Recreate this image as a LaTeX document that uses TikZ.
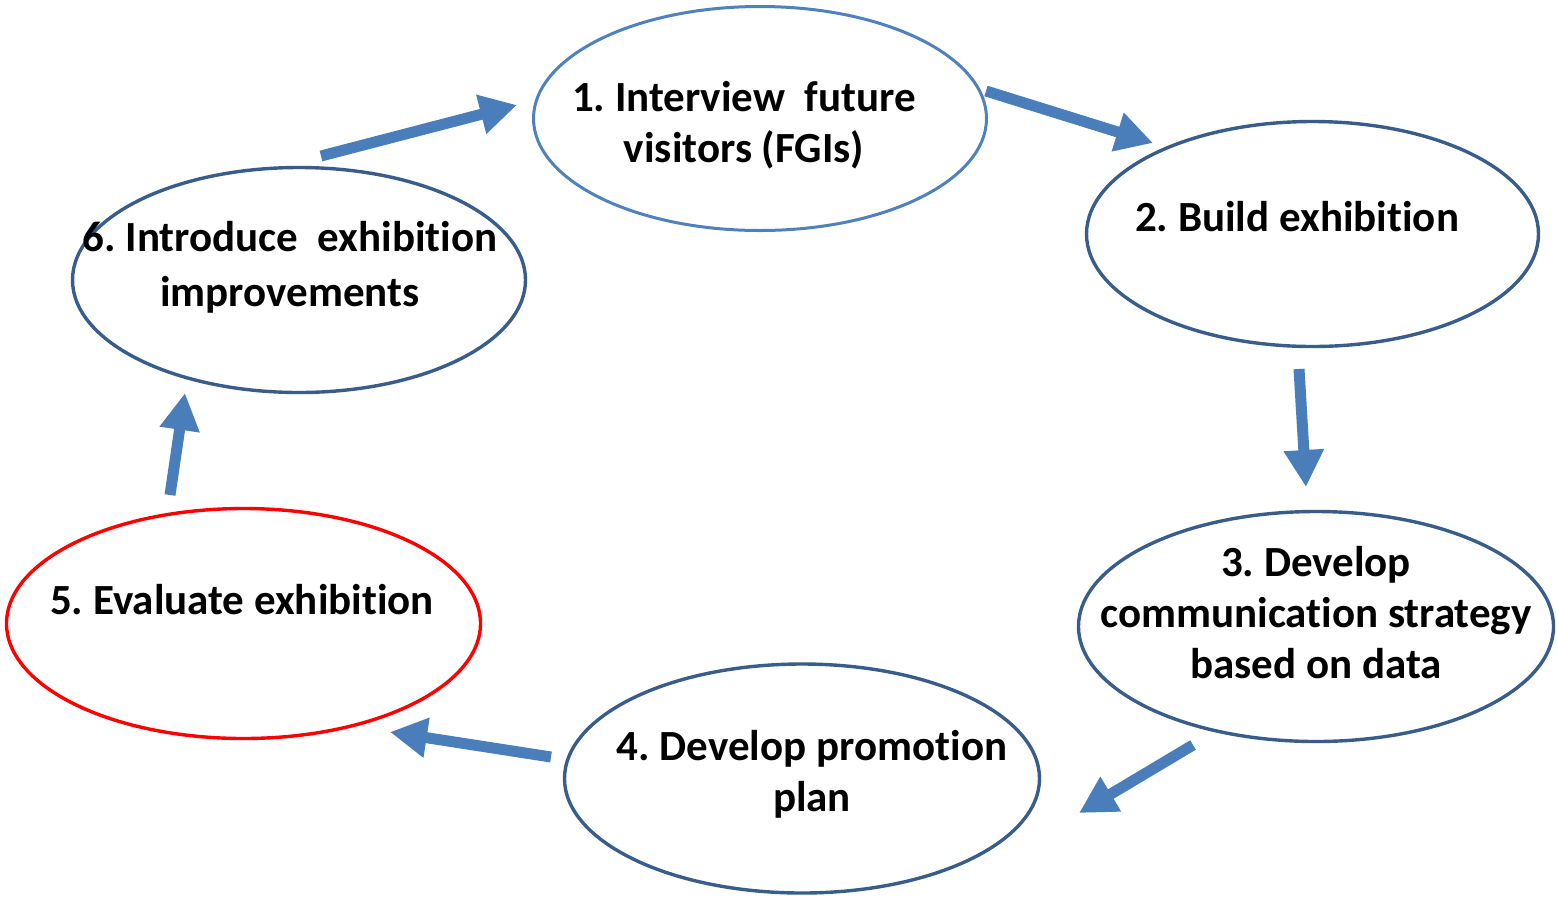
\documentclass[tikz,border=0pt]{standalone}
\usepackage{fontspec}
\setmainfont{Carlito}[Ligatures=NoCommon]
\frenchspacing
\usetikzlibrary{shapes.geometric,arrows.meta}
\definecolor{lightline}{RGB}{79,129,189}
\definecolor{darkline}{RGB}{56,93,138}
\definecolor{arrowblue}{RGB}{74,126,187}
\definecolor{redline}{RGB}{255,0,0}
\tikzset{
  stage/.style={ellipse, draw=darkline, line width=3.4pt, inner sep=0pt, fill=white},
  stagetext/.style={font=\fontsize{43}{51}\selectfont\bfseries\frenchspacing, align=center, anchor=base, inner sep=0pt},
  flow/.style={draw=arrowblue, line width=11pt, -{Triangle[length=37pt,width=38pt]}, arrowblue}
}
\begin{document}
\begin{tikzpicture}[x=1pt,y=-1pt]
\useasboundingbox[fill=white] (0,0) rectangle (1557,898);
% ellipses
\node[stage, draw=lightline, line width=3pt, minimum width=453pt, minimum height=224pt] (n1) at (760,118.5) {};
\node[stage, minimum width=452pt, minimum height=225pt] (n2) at (1312.5,234) {};
\node[stage, minimum width=475pt, minimum height=230pt] (n3) at (1316,626.5) {};
\node[stage, minimum width=475pt, minimum height=229pt] (n4) at (802,778.5) {};
\node[stage, draw=redline, minimum width=474pt, minimum height=230pt] (n5) at (243.5,623.5) {};
\node[stage, minimum width=453pt, minimum height=225pt] (n6) at (299,280) {};
% texts (anchored at the baseline of the last line)
\node[stagetext] (t1) at (744,162) {1. Interview~ future\\visitors (FGIs)};
\node[stagetext] (t2) at (1297,231) {2. Build exhibition};
\node[stagetext] (t3) at (1316,678) {3. Develop\\communication strategy\\based on data};
\node[stagetext] (t4) at (812,811) {4. Develop promotion\\plan};
\node[stagetext] (t5) at (242,614) {5. Evaluate exhibition};
\node[stagetext, font=\fontsize{43}{55}\selectfont\bfseries\frenchspacing] (t6) at (290,306) {6. Introduce~ exhibition\\improvements};
% arrow end points
\coordinate (a61s) at (321,156);
\coordinate (a61e) at (517,105);
\coordinate (a12s) at (986,91);
\coordinate (a12e) at (1153,143);
\coordinate (a23s) at (1299,369);
\coordinate (a23e) at (1306,487);
\coordinate (a34s) at (1193,745);
\coordinate (a34e) at (1079,813);
\coordinate (a45s) at (551,757);
\coordinate (a45e) at (390,732);
\coordinate (a56s) at (170,495);
\coordinate (a56e) at (185,393);
% arrows
\draw[flow] (a61s) -- (a61e);
\draw[flow] (a12s) -- (a12e);
\draw[flow] (a23s) -- (a23e);
\draw[flow] (a34s) -- (a34e);
\draw[flow] (a45s) -- (a45e);
\draw[flow] (a56s) -- (a56e);
\end{tikzpicture}
\end{document}
